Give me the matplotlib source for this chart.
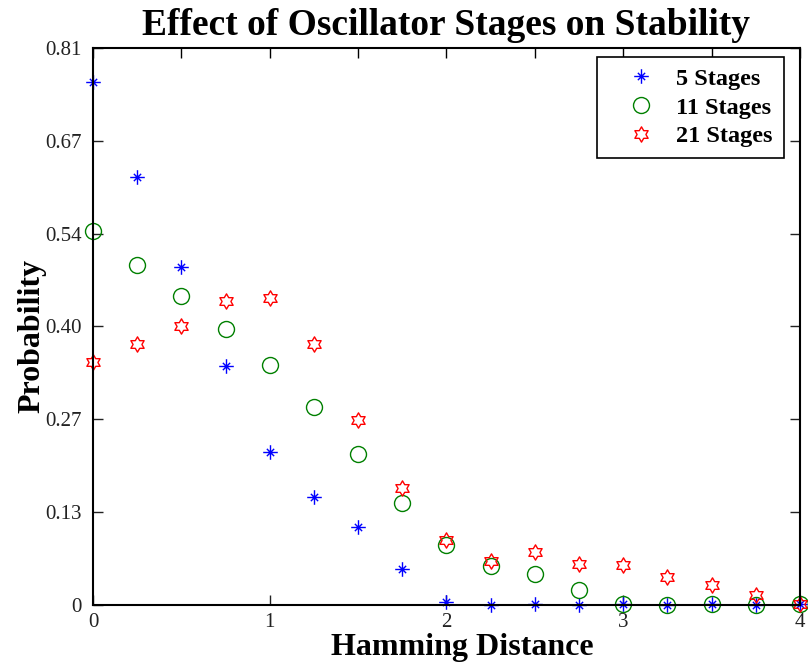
import numpy as np
import matplotlib
matplotlib.use("Agg")
import matplotlib.pyplot as plt
from matplotlib.path import Path

# Hamming distance samples and measured probabilities
hamming = [0, 0.25, 0.5, 0.75, 1, 1.25, 1.5, 1.75, 2,
           2.25, 2.5, 2.75, 3, 3.25, 3.5, 3.75, 4]

p5 = [0.760, 0.622, 0.492, 0.347, 0.223, 0.157, 0.114, 0.052, 0.005,
      0.000, 0.002, 0.000, 0.002, 0.000, 0.002, 0.000, 0.002]
p11 = [0.544, 0.494, 0.449, 0.401, 0.349, 0.288, 0.219, 0.148, 0.087,
       0.057, 0.045, 0.022, 0.002, 0.000, 0.002, 0.000, 0.002]
p21 = [0.354, 0.380, 0.406, 0.442, 0.447, 0.380, 0.269, 0.170, 0.095,
       0.064, 0.077, 0.060, 0.058, 0.041, 0.029, 0.015, 0.002]

labels = ["5 Stages", "11 Stages", "21 Stages"]
ymax = 0.81

plt.rcParams['font.family'] = ['Liberation Serif', 'DejaVu Serif']

# hexagram marker (six pointed star)
ang = np.pi / 2 + np.arange(12) * np.pi / 6
rad = np.where(np.arange(12) % 2 == 0, 1.0, 0.577)
verts = np.column_stack([rad * np.cos(ang), rad * np.sin(ang)])
verts = np.vstack([verts, verts[:1]])
hexagram = Path(verts, [Path.MOVETO] + [Path.LINETO] * 11 + [Path.CLOSEPOLY])

# asterisk: long straight arms, short diagonal arms
d = 0.5
star_pts = [(-1, 0), (1, 0), (0, -1), (0, 1),
            (-d, -d), (d, d), (-d, d), (d, -d)]
asterisk = Path(star_pts, [Path.MOVETO, Path.LINETO] * 4)

fig = plt.figure(figsize=(8.08, 6.62), dpi=100)
ax = fig.add_axes([0.1151, 0.0861, 0.8749, 0.8414])

ax.plot(hamming, p5, linestyle='none', marker=asterisk, ms=10.5,
        mec='#0000ff', mew=1.0, label=labels[0], clip_on=False)
ax.plot(hamming, p11, linestyle='none', marker='o', ms=11.5,
        mfc='none', mec='#008000', mew=1.0, label=labels[1], clip_on=False)
ax.plot(hamming, p21, linestyle='none', marker=hexagram, ms=11,
        mfc='none', mec='#ff0000', mew=1.0, label=labels[2], clip_on=False)

ax.set_xlim(0, 4)
ax.set_ylim(0, ymax)
ax.set_xticks([0, 1, 2, 3, 4])
ax.set_xticklabels(['0', '1', '2', '3', '4'])
yt = np.linspace(0, ymax, 7)
ax.set_yticks(yt)
ax.set_yticklabels(['0', '0.13', '0.27', '0.40', '0.54', '0.67', '0.81'])
ax.tick_params(direction='in', length=7, width=1.0, labelsize=15,
               right=True, top=False, colors='#222222')
ax.tick_params(axis='x', pad=6)
ax.tick_params(axis='y', pad=8)

# denser ticks along the top edge
top = ax.secondary_xaxis('top')
top.set_xticks(np.arange(0, 4.01, 0.5))
top.tick_params(direction='in', length=7, width=1.0, labeltop=False)
top.spines['top'].set_visible(False)

for s in ax.spines.values():
    s.set_linewidth(1.5)

ax.set_title("Effect of Oscillator Stages on Stability", fontsize=27,
             fontweight='bold', pad=9)
ax.set_xlabel("Hamming Distance", fontsize=23, fontweight='bold')
ax.xaxis.set_label_coords(0.522, -0.05)
ax.set_ylabel("Probability", fontsize=23, fontweight='bold')
ax.yaxis.set_label_coords(-0.066, 0.483)

leg = ax.legend(loc='upper right', bbox_to_anchor=(0.977, 0.984),
                borderaxespad=0, prop={'size': 17.5, 'weight': 'bold'},
                fancybox=False, edgecolor='black', framealpha=1,
                handletextpad=0.1, borderpad=0.45, labelspacing=0.28,
                handlelength=2.7)
leg.get_frame().set_linewidth(1.2)

fig.savefig("out.png", dpi=100)
